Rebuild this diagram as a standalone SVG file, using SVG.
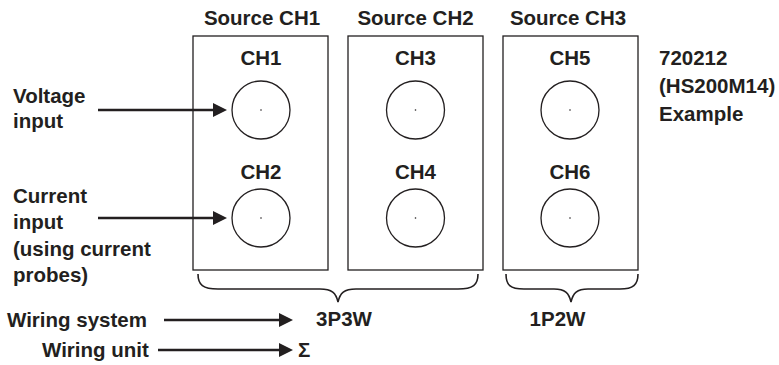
<svg xmlns="http://www.w3.org/2000/svg" width="779" height="365" viewBox="0 0 779 365">
<style>
text{font-family:"Liberation Sans",Arial,sans-serif;font-weight:bold;font-size:20.5px;fill:#231f20}
.c{text-anchor:middle}
.box{fill:none;stroke:#231f20;stroke-width:1.3}
.jack{fill:none;stroke:#231f20;stroke-width:1.3}
.dot{fill:#231f20}
.arr{stroke:#231f20;stroke-width:2.6;fill:none}
.brace{fill:none;stroke:#231f20;stroke-width:1.6}
</style>
<defs>
<marker id="ah" markerUnits="userSpaceOnUse" markerWidth="14" markerHeight="14" refX="4" refY="7" orient="auto">
<path d="M0,0 L14,7 L0,14 z" fill="#231f20"/>
</marker>
</defs>
<rect width="779" height="365" fill="#fff"/>
<g id="source1">
<text class="c" x="262" y="25">Source CH1</text>
<rect class="box" x="193" y="36" width="135" height="234"/>
<text class="c" x="261" y="65">CH1</text>
<circle class="jack" cx="261" cy="110" r="29"/><circle class="dot" cx="261" cy="110" r="0.8"/>
<text class="c" x="261" y="179">CH2</text>
<circle class="jack" cx="261" cy="218" r="29"/><circle class="dot" cx="261" cy="218" r="0.8"/>
</g>
<g id="source2">
<text class="c" x="415.5" y="25">Source CH2</text>
<rect class="box" x="348" y="36" width="135" height="234"/>
<text class="c" x="415.5" y="65">CH3</text>
<circle class="jack" cx="415.5" cy="110" r="29"/><circle class="dot" cx="415.5" cy="110" r="0.8"/>
<text class="c" x="415.5" y="179">CH4</text>
<circle class="jack" cx="415.5" cy="218" r="29"/><circle class="dot" cx="415.5" cy="218" r="0.8"/>
</g>
<g id="source3">
<text class="c" x="568" y="25">Source CH3</text>
<rect class="box" x="503" y="36" width="135" height="234"/>
<text class="c" x="570" y="65">CH5</text>
<circle class="jack" cx="570" cy="110" r="29"/><circle class="dot" cx="570" cy="110" r="0.8"/>
<text class="c" x="570" y="179">CH6</text>
<circle class="jack" cx="570" cy="218" r="29"/><circle class="dot" cx="570" cy="218" r="0.8"/>
</g>
<g id="model">
<text x="659" y="65">720212</text>
<text x="659" y="93">(HS200M14)</text>
<text x="659" y="121">Example</text>
</g>
<g id="voltage-label">
<text x="13" y="102.5">Voltage</text>
<text x="13" y="128">input</text>
</g>
<g id="current-label">
<text x="13" y="203">Current</text>
<text x="13" y="229">input</text>
<text x="13" y="256">(using current</text>
<text x="13" y="282">probes)</text>
</g>
<g id="wiring-labels">
<text x="7" y="327">Wiring system</text>
<text x="42" y="357">Wiring unit</text>
</g>
<g id="brace-3p3w">
<path class="brace" d="M198,274 C198,285 203,289 218,289 L320,289 C332,289 336,293 338,302 C340,293 344,289 356,289 L458,289 C473,289 478,285 478,274"/>
<text class="c" x="344" y="326">3P3W</text>
<text x="298" y="357">Σ</text>
</g>
<g id="brace-1p2w">
<path class="brace" d="M506,274 C506,285 510,289 524,289 L554,289 C565,289 569,293 571,302 C573,293 577,289 588,289 L620,289 C633,289 638,285 638,274"/>
<text class="c" x="557.5" y="326">1P2W</text>
</g>
<g id="connectors">
<line class="arr" x1="98" y1="110" x2="217" y2="110" marker-end="url(#ah)"/>
<line class="arr" x1="98" y1="218" x2="217" y2="218" marker-end="url(#ah)"/>
<line class="arr" x1="164" y1="320" x2="283" y2="320" marker-end="url(#ah)"/>
<line class="arr" x1="158" y1="350" x2="283" y2="350" marker-end="url(#ah)"/>
</g>
</svg>
